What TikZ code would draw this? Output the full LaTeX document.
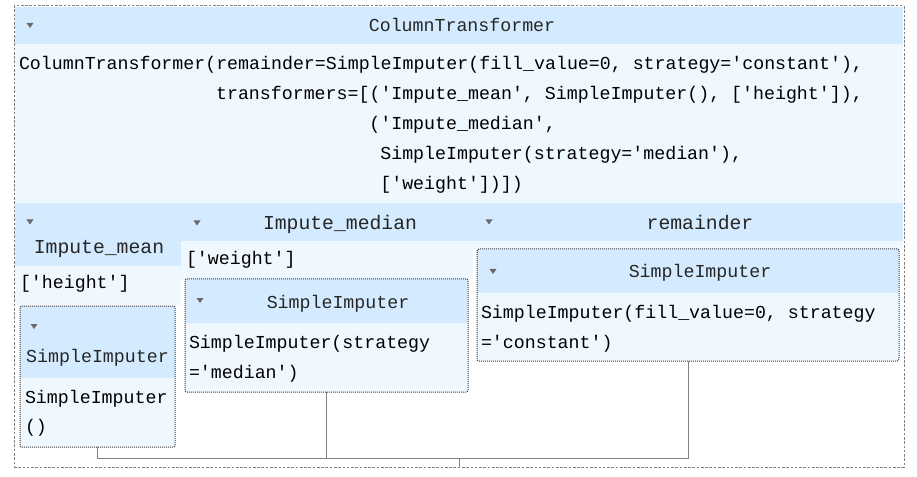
\documentclass[tikz,border=0pt]{standalone}
\usepackage{fontspec}
\setmonofont{Liberation Mono}
\usetikzlibrary{fit}
\definecolor{hdrblue}{HTML}{D4EBFF}
\definecolor{bdyblue}{HTML}{F0F8FF}
\definecolor{tricol}{HTML}{696969}
\definecolor{conncol}{HTML}{808080}
\definecolor{dotcol}{HTML}{3A3A3A}
\newcommand\bodyfont{\ttfamily\fontsize{13.7}{16}\selectfont}
\newcommand\headfont{\ttfamily\fontsize{14.8}{17}\selectfont}
\newcommand\downtri[2]{\fill[tricol] (#1-3.5,#2-2.5) -- (#1+3.5,#2-2.5) -- (#1,#2+2.5) -- cycle;}
\tikzset{
  hdrfill/.style={fill=hdrblue},
  bdyfill/.style={fill=bdyblue},
  txt/.style={anchor=base west, inner sep=0pt, outer sep=0pt, font=\bodyfont, text=black},
  ttl/.style={anchor=base, inner sep=0pt, outer sep=0pt, font=\bodyfont, text=black!85},
  coltitle/.style={anchor=base, inner sep=0pt, outer sep=0pt, font=\headfont, text=black!85},
  ibox/.style={draw=dotcol, line width=0.75pt, dash pattern=on 0.75pt off 0.75pt, rounded corners=1.5pt, inner sep=0pt, outer sep=0pt},
  obox/.style={draw=conncol, line width=0.75pt, dash pattern=on 2pt off 1.2pt, inner sep=0pt, outer sep=0pt},
  conn/.style={draw=conncol, line width=0.75pt},
}
\begin{document}
\begin{tikzpicture}[x=0.75pt,y=-0.75pt]
\useasboundingbox (0,0) rectangle (917,477);
% background fills
\fill[hdrfill] (15,7) rectangle (903,44);
\fill[bdyfill] (15,44) rectangle (903,203);
\fill[hdrfill] (15,203) rectangle (181,266);
\fill[hdrfill] (181,203) rectangle (473,241);
\fill[hdrfill] (473,203) rectangle (903,241);
\fill[bdyfill] (15,266) rectangle (181,305);
\fill[bdyfill] (181,241) rectangle (473,279);
\fill[bdyfill] (473,241) rectangle (903,249);
% inner box fills
\fill[hdrfill] (20,306) rectangle (175,378);
\fill[bdyfill] (20,378) rectangle (175,447);
\fill[hdrfill] (185,279) rectangle (468,323);
\fill[bdyfill] (185,323) rectangle (468,392);
\fill[hdrfill] (477,249) rectangle (899,293);
\fill[bdyfill] (477,293) rectangle (899,361);
% boxes
\node[obox, fit={(14,6) (904,467)}] (outer) {};
\node[ibox, fit={(20,306) (175,447)}] (b1) {};
\node[ibox, fit={(185,279) (468,392)}] (b2) {};
\node[ibox, fit={(477,249) (899,361)}] (b3) {};
% connectors
\coordinate (hy) at (0,458);
\draw[conn] (b1.south) -- (b1.south |- hy) -- (b3.south |- hy) -- (b3.south);
\draw[conn] (b2.south) -- (b2.south |- hy);
\draw[conn] (outer.south) -- (outer.south |- hy);
% triangles
\downtri{30}{25.5}
\downtri{30}{222}
\downtri{197}{223}
\downtri{489}{222}
\downtri{34}{326.5}
\downtri{200}{300.5}
\downtri{493}{271.5}
% top
\node[ttl] (ctitle) at (462,31.5) {ColumnTransformer};
\node[txt] (l1) at (19,70) {ColumnTransformer(remainder=SimpleImputer(fill\_value=0, strategy='constant'),};
\node[txt] (l2) at (216.1,100) {transformers=[('Impute\_mean', SimpleImputer(), ['height']),};
\node[txt] (l3) at (369.4,130) {('Impute\_median',};
\node[txt] (l4) at (380.35,160) {SimpleImputer(strategy='median'),};
\node[txt] (l5) at (380.35,190) {['weight'])])};
% column titles
\node[coltitle] (t1) at (99,254) {Impute\_mean};
\node[coltitle] (t2) at (340,230) {Impute\_median};
\node[coltitle] (t3) at (700,230) {remainder};
% column bodies
\node[txt] (c1) at (20,288) {['height']};
\node[txt] (c2) at (186,265) {['weight']};
% box 1
\node[ttl] (b1t) at (97.5,362) {SimpleImputer};
\node[txt] (b1a) at (25,403) {SimpleImputer};
\node[txt] (b1b) at (25,432) {()};
% box 2
\node[ttl] (b2t) at (338,308) {SimpleImputer};
\node[txt] (b2a) at (189,348) {SimpleImputer(strategy};
\node[txt] (b2b) at (189,378) {='median')};
% box 3
\node[ttl] (b3t) at (700,277) {SimpleImputer};
\node[txt] (b3a) at (481,318) {SimpleImputer(fill\_value=0, strategy};
\node[txt] (b3b) at (481,348) {='constant')};
\end{tikzpicture}
\end{document}
